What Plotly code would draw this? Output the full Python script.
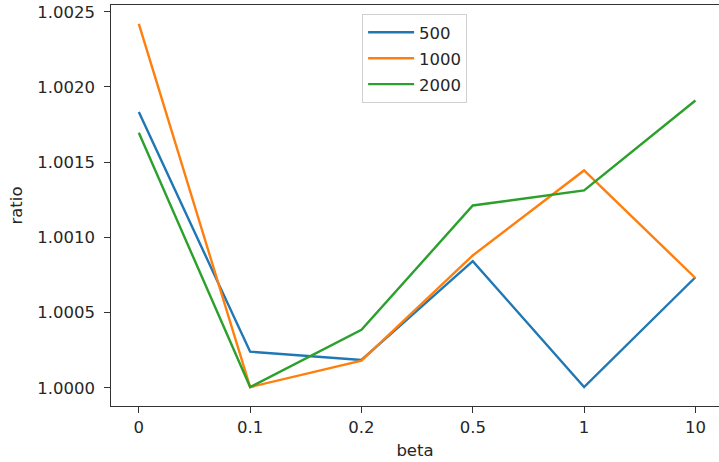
import plotly.graph_objects as go

categories = ["0", "0.1", "0.2", "0.5", "1", "10"]
series_names = ["500", "1000", "2000"]
s500 = [1.001833, 1.000240, 1.000185, 1.000842, 1.000005, 1.000735]
s1000 = [1.002420, 1.000005, 1.000180, 1.000880, 1.001445, 1.000730]
s2000 = [1.001695, 1.000005, 1.000385, 1.001212, 1.001312, 1.001910]
colors = ["#1f77b4", "#ff7f0e", "#2ca02c"]
ytick_vals = [1.0000, 1.0005, 1.0010, 1.0015, 1.0020, 1.0025]

font_family = "DejaVu Sans"
fs = 16.5
txt = "#262626"

fig = go.Figure()
for name, vals, c in zip(series_names, [s500, s1000, s2000], colors):
    fig.add_trace(go.Scatter(x=categories, y=vals, mode="lines", name=name,
                             legendgroup=name,
                             line=dict(color=c, width=2.4)))

fig.update_layout(
    width=719, height=462,
    margin=dict(l=110.5, r=0, t=5, b=56.3),
    paper_bgcolor="white", plot_bgcolor="white",
    font=dict(family=font_family, size=fs, color=txt),
    showlegend=True,
    legend=dict(x=0.413, y=0.9775, xanchor="left", yanchor="top",
                bgcolor="rgba(255,255,255,0.8)", bordercolor="#d0d0d0", borderwidth=1,
                font=dict(size=fs), tracegroupgap=1.5, itemwidth=46),
    xaxis=dict(type="category", categoryorder="array", categoryarray=categories,
               range=[-0.25, 5.212], showgrid=False, zeroline=False,
               showline=True, linecolor="#333333", linewidth=1.3, mirror=True,
               ticks="outside", ticklen=5.6, tickwidth=1.3, tickcolor="#333333",
               title=dict(text="beta", standoff=8, font=dict(size=fs))),
    yaxis=dict(range=[0.999879, 1.002545], showgrid=False, zeroline=False,
               showline=True, linecolor="#333333", linewidth=1.3, mirror=False,
               ticks="outside", ticklen=5.6, tickwidth=1.3, tickcolor="#333333",
               ticklabelstandoff=6,
               tickvals=ytick_vals, ticktext=[f"{v:.4f}" for v in ytick_vals],
               title=dict(text="ratio", standoff=10, font=dict(size=fs))),
)

fig.write_html("out.html")
